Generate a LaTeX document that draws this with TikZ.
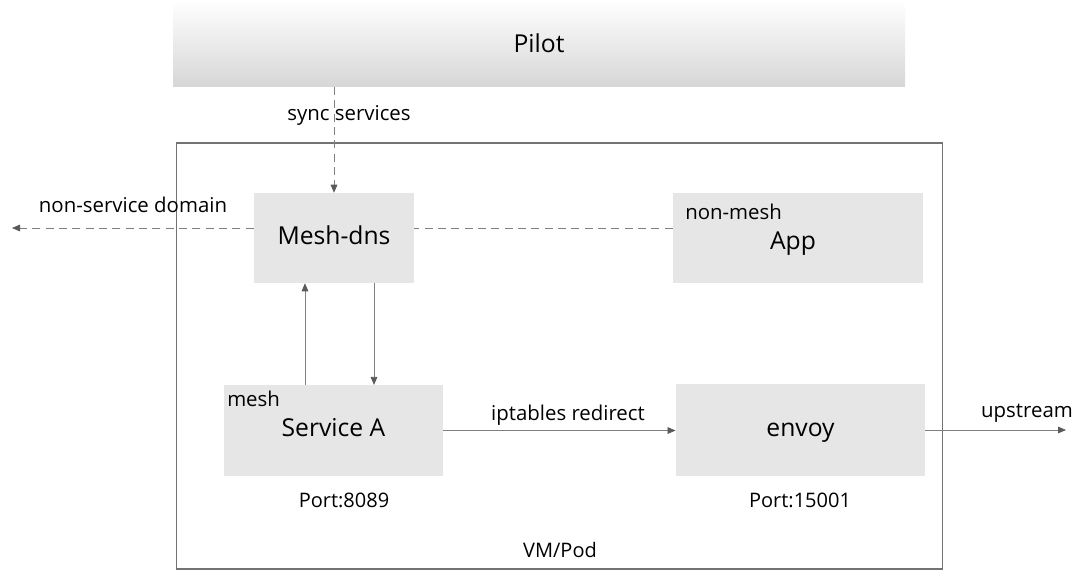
\documentclass[tikz,border=0pt]{standalone}
\usepackage{fontspec}
\setmainfont{Open Sans}
\usepackage{tikz}
\usetikzlibrary{arrows.meta}

\definecolor{boxfill}{HTML}{E6E6E6}
\definecolor{linegray}{HTML}{7F7F7F}
\definecolor{tipgray}{HTML}{5A5A5A}

\tikzset{
  blk/.style={fill=boxfill,inner sep=0pt,minimum height=67.5pt,text height=13pt,text depth=4pt,font=\fontsize{18.5}{20}\selectfont},
  tag/.style={inner sep=0pt,font=\fontsize{15.3}{17}\selectfont},
  port/.style={inner sep=0pt,font=\fontsize{15}{17}\selectfont},
  conn/.style={draw=linegray,line width=0.6pt,-{Triangle[length=6pt,width=5pt,color=tipgray]}},
  dconn/.style={conn,dash pattern=on 6pt off 4pt}
}

\begin{document}
\begin{tikzpicture}[x=0.75pt,y=-0.75pt]
  \useasboundingbox (0,0) rectangle (1080,583);
  % pilot band
  \node[top color=white,bottom color=black!16,minimum width=549pt,minimum height=65pt,inner sep=0pt,font=\fontsize{18.5}{20}\selectfont] (pilot) at (539,43.5) {Pilot};
  % vm / pod frame
  \node[draw=black!55,line width=0.8pt,minimum width=575pt,minimum height=319.5pt,inner sep=0pt] (pod) at (559.5,356) {};
  \node[port] (podlbl) at (560,550) {VM/Pod};
  % blocks
  \node[blk,minimum width=120pt] (dns) at (334,238) {Mesh-dns};
  \node[blk,minimum width=187.5pt] (app) at (798,238) {};
  \node[blk,fill=none] (apptxt) at (793,243) {App};
  \node[blk,minimum width=164pt,minimum height=68pt] (svc) at (333.5,430.5) {Service A};
  \node[blk,minimum width=187pt,minimum height=69pt] (envoy) at (800.5,430) {envoy};
  \node[tag,anchor=west] (nonmesh) at (685,212) {non-mesh};
  \node[tag,anchor=west] (mesh) at (227,399) {mesh};
  \node[port] (p1) at (344,500) {Port:8089};
  \node[port] (p2) at (800,500) {Port:15001};
  % free ends
  \coordinate (ext) at (12,228);
  \coordinate (up) at (1066,431);
  % connectors
  \draw[dconn] (dns.north |- pilot.south) -- (dns.north);
  \node[tag] (sync) at (349,115) {sync services};
  \draw[draw=linegray,line width=0.6pt,dash pattern=on 6pt off 4pt] ([yshift=7.5pt]app.west) -- ([yshift=7.5pt]dns.east);
  \draw[dconn] ([yshift=7.5pt]dns.west) -- (ext);
  \node[tag] (nsd) at (133,205) {non-service domain};
  \draw[conn] ([xshift=-21.4pt]svc.north) -- ([xshift=-21.4pt]svc.north |- dns.south);
  \draw[conn] ([xshift=30pt]dns.south) -- ([xshift=30pt]dns.south |- svc.north);
  \draw[conn] (svc.east) -- (svc.east -| envoy.west);
  \node[tag] (ipt) at (568,415) {iptables redirect};
  \draw[conn] (envoy.east) -- (envoy.east -| up);
  \node[tag] (ups) at (1027,413) {upstream};
\end{tikzpicture}
\end{document}
